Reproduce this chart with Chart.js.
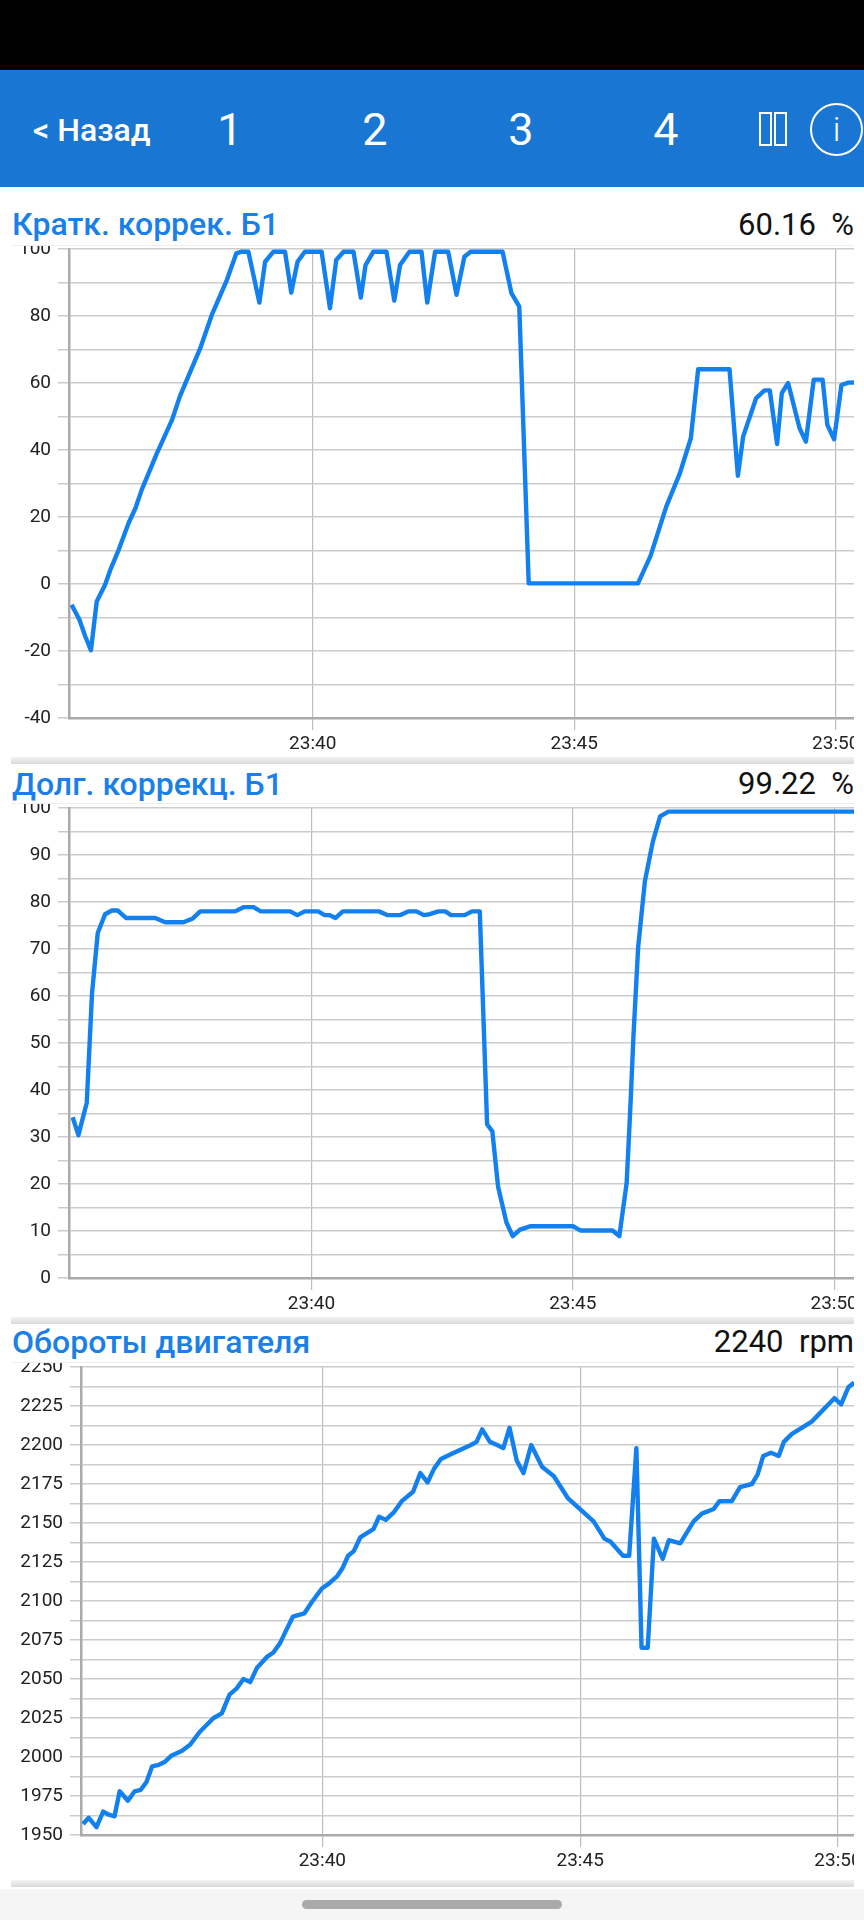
<!DOCTYPE html>
<html lang="ru">
<head>
<meta charset="utf-8">
<title>Графики</title>
<script src="https://cdn.jsdelivr.net/npm/chart.js@4"></script>
<style>
    html, body { margin: 0; padding: 0; background: #fff; }
    #page { position: relative; width: 864px; height: 1920px; overflow: hidden; font-family: Roboto, sans-serif; }
    #status { position: absolute; left: 0; top: 0; width: 864px; height: 70px; background: #000; }
    #toolbar { position: absolute; left: 0; top: 70px; width: 864px; height: 117px; background: #1976d2; color: #fff; }
    #toolbar span { position: absolute; top: 0; line-height: 120px; }
    #back { left: 33px; font-size: 32px; font-weight: 500; }
    .num { font-size: 45px; width: 60px; text-align: center; }
    .bar { position: absolute; top: 42px; width: 9px; height: 30px; border: 2px solid #fff; }
    #info { position: absolute; left: 810px; top: 33px; width: 49px; height: 49px; border: 2px solid #fff; border-radius: 50%; text-align: center; line-height: 49px; font-size: 34px; font-weight: 300; }
    .head { position: absolute; left: 11px; width: 843px; background: #fff; border-bottom: 1px solid #eee; z-index: 2; }
    .head b { position: absolute; left: 1px; bottom: 0; font-size: 32px; line-height: 38px; font-weight: 500; color: #1a7fe6; white-space: nowrap; }
    .head i { position: absolute; right: 0; bottom: 0; font-size: 31px; line-height: 38px; font-style: normal; color: #111; white-space: pre; }
    .clip { position: absolute; left: 0; width: 854px; overflow: hidden; z-index: 1; }
    .shade { position: absolute; left: 11px; width: 843px; height: 7px; background: linear-gradient(#f4f4f4, #d9d9d9); z-index: 3; }
    #nav { position: absolute; left: 0; top: 1889px; width: 864px; height: 31px; background: #f5f5f5; z-index: 4; }
    #pill { position: absolute; left: 302px; top: 11px; width: 260px; height: 9px; border-radius: 5px; background: #aaa; }
</style>
</head>
<body>
<div id="page">
    <div id="status"></div>
    <div id="toolbar">
        <span id="back">&lt; Назад</span>
        <span class="num" style="left:200px">1</span>
        <span class="num" style="left:345px">2</span>
        <span class="num" style="left:491px">3</span>
        <span class="num" style="left:636px">4</span>
        <div class="bar" style="left:759px"></div>
        <div class="bar" style="left:774px"></div>
        <div id="info">i</div>
    </div>

    <div class="head" style="top:187px;height:58px"><b style="bottom:2px">Кратк. коррек. Б1</b><i style="bottom:1px">60.16  %</i></div>
    <div class="clip" style="top:229px;height:532px"><canvas id="chart1"></canvas></div>
    <div class="shade" style="top:757px"></div>

    <div class="head" style="top:764px;height:39px"><b>Долг. коррекц. Б1</b><i>99.22  %</i></div>
    <div class="clip" style="top:787px;height:533px"><canvas id="chart2"></canvas></div>
    <div class="shade" style="top:1317px"></div>

    <div class="head" style="top:1324px;height:38px"><b style="bottom:1px">Обороты двигателя</b><i style="bottom:1px">2240  rpm</i></div>
    <div class="clip" style="top:1346px;height:536px"><canvas id="chart3"></canvas></div>
    <div class="shade" style="top:1880px"></div>

    <div id="nav"><div id="pill"></div></div>
</div>

<script>
// time axis is minutes after 23:00
const xTicks = [40, 45, 50];
const xTickLabels = ['23:40', '23:45', '23:50'];

const shortTime = [35.39, 35.54, 35.65, 35.76, 35.87, 36.03, 36.13, 36.29, 36.48, 36.61, 36.73, 37.02, 37.31, 37.46, 37.85, 38.07, 38.36, 38.54, 38.64, 38.77, 38.98, 39.09, 39.25, 39.47, 39.59, 39.71, 39.85, 40.17, 40.33, 40.45, 40.59, 40.78, 40.92, 41.01, 41.16, 41.41, 41.56, 41.67, 41.85, 42.08, 42.19, 42.34, 42.59, 42.75, 42.9, 43.02, 43.63, 43.8, 43.95, 44.13, 46.22, 46.46, 46.64, 46.76, 47.02, 47.23, 47.37, 47.97, 48.13, 48.23, 48.48, 48.64, 48.74, 48.88, 48.97, 49.09, 49.31, 49.43, 49.58, 49.75, 49.84, 49.97, 50.11, 50.24, 50.35];
const shortTrim = [-6.2, -10.7, -15.6, -19.8, -5.2, -0.2, 4.2, 10.2, 18.2, 22.6, 28.1, 39, 49, 56, 70.4, 80.3, 90.8, 98.7, 99.2, 99.2, 84, 96.2, 99.2, 99.2, 87, 96.2, 99.2, 99.2, 82.3, 96.7, 99.2, 99.2, 85.5, 95.2, 99.2, 99.2, 84.6, 95.2, 99.2, 99.2, 84, 99.2, 99.2, 86.3, 97.7, 99.2, 99.2, 86.8, 82.8, 0.2, 0.2, 8.4, 17.2, 23.1, 33, 43.5, 64.1, 64.1, 32.3, 44, 55.5, 57.8, 57.8, 41.8, 57, 60, 46.5, 42.5, 61, 61, 47.5, 43.2, 59.4, 60.1, 60.16];
const shortTicks = [-40, -20, 0, 20, 40, 60, 80, 100];

const longTime = [35.43, 35.54, 35.7, 35.8, 35.91, 36.05, 36.18, 36.29, 36.45, 37.01, 37.2, 37.55, 37.73, 37.87, 38.54, 38.7, 38.89, 39.03, 39.59, 39.73, 39.87, 40.13, 40.25, 40.35, 40.46, 40.6, 41.29, 41.46, 41.69, 41.85, 42.01, 42.15, 42.26, 42.43, 42.56, 42.67, 42.93, 43.07, 43.22, 43.36, 43.46, 43.57, 43.73, 43.85, 43.99, 44.18, 45.01, 45.15, 45.76, 45.89, 46.03, 46.1, 46.16, 46.25, 46.38, 46.53, 46.67, 46.83, 50.38];
const longTrim = [34.2, 30.4, 37.3, 60.5, 73.4, 77.4, 78.2, 78.2, 76.6, 76.6, 75.7, 75.7, 76.5, 78, 78, 78.9, 78.9, 78, 78, 77.2, 78, 78, 77.2, 77.2, 76.6, 78, 78, 77.2, 77.2, 78, 78, 77.2, 77.4, 78, 78, 77.2, 77.2, 78, 78, 32.7, 31.2, 19.4, 11.8, 8.9, 10.3, 11, 11, 10.1, 10.1, 8.9, 20.2, 36.1, 51.4, 70.4, 84.5, 92.8, 98.2, 99.22, 99.22];
const longTicks = [0, 10, 20, 30, 40, 50, 60, 70, 80, 90, 100];

const rpmTime = [35.36, 35.47, 35.62, 35.75, 35.86, 35.97, 36.07, 36.23, 36.36, 36.48, 36.59, 36.7, 36.83, 36.95, 37.08, 37.28, 37.44, 37.62, 37.89, 38.05, 38.2, 38.34, 38.47, 38.6, 38.73, 38.92, 39.05, 39.18, 39.31, 39.43, 39.65, 39.79, 39.99, 40.12, 40.29, 40.39, 40.5, 40.61, 40.74, 40.99, 41.1, 41.23, 41.39, 41.54, 41.76, 41.9, 42.04, 42.17, 42.3, 42.49, 42.68, 42.88, 42.99, 43.1, 43.25, 43.39, 43.51, 43.63, 43.77, 43.9, 44.05, 44.26, 44.49, 44.76, 45.26, 45.47, 45.59, 45.83, 45.95, 46.09, 46.19, 46.31, 46.43, 46.6, 46.72, 46.94, 47.2, 47.36, 47.59, 47.7, 47.94, 48.1, 48.33, 48.44, 48.55, 48.7, 48.85, 48.95, 49.1, 49.49, 49.93, 50.06, 50.2, 50.31];
const rpmValues = [1957, 1961, 1955, 1965, 1963, 1962, 1978, 1972, 1978, 1979, 1984, 1994, 1995, 1997, 2001, 2004, 2008, 2016, 2025, 2028, 2040, 2044, 2050, 2048, 2057, 2064, 2067, 2073, 2082, 2090, 2092, 2099, 2108, 2111, 2116, 2121, 2129, 2132, 2141, 2146, 2154, 2152, 2157, 2164, 2170, 2182, 2176, 2185, 2191, 2194, 2197, 2200, 2202, 2210, 2202, 2200, 2198, 2211, 2190, 2182, 2200, 2186, 2180, 2166, 2151, 2140, 2138, 2129, 2129, 2198, 2070, 2070, 2140, 2127, 2139, 2137, 2151, 2156, 2159, 2164, 2164, 2173, 2175, 2181, 2193, 2195, 2193, 2202, 2207, 2215, 2230, 2226, 2237, 2240];
const rpmTicks = [1950, 1975, 2000, 2025, 2050, 2075, 2100, 2125, 2150, 2175, 2200, 2225, 2250];

const LINE_COLOR = '#1380ef';
const AXIS_COLOR = '#aaaaaa';
const FONT = { family: 'Roboto', size: 19 };

function drawPanel(canvasId, opts) {
    const canvas = document.getElementById(canvasId);
    const right = 46;
    const bottom = 44;
    canvas.width = 854 + right;
    canvas.height = opts.top + opts.plotHeight + bottom;

    new Chart(canvas, {
        type: 'line',
        data: {
            datasets: [{
                data: opts.time.map((t, i) => ({ x: t, y: opts.values[i] })),
                borderColor: LINE_COLOR,
                borderWidth: 4.4,
                pointRadius: 0,
                tension: 0,
                borderJoinStyle: 'round'
            }]
        },
        options: {
            responsive: false,
            animation: false,
            layout: { padding: { top: opts.top, right: right, left: 0, bottom: 0 } },
            plugins: { legend: { display: false }, tooltip: { enabled: false } },
            scales: {
                x: {
                    type: 'linear',
                    min: opts.xMin,
                    max: opts.xMax,
                    afterBuildTicks: axis => { axis.ticks = xTicks.map(v => ({ value: v })); },
                    afterFit: scale => { scale.height = bottom; },
                    grid: { color: '#bdbdbd', lineWidth: 1.2, tickLength: 12 },
                    border: { color: AXIS_COLOR, width: 2.5 },
                    ticks: {
                        autoSkip: false,
                        maxRotation: 0,
                        padding: 3,
                        color: '#222',
                        font: FONT,
                        callback: v => xTickLabels[xTicks.indexOf(v)]
                    }
                },
                y: {
                    min: opts.yTicks[0],
                    max: opts.yTicks[opts.yTicks.length - 1],
                    afterFit: scale => { scale.width = opts.left; },
                    grid: { color: '#cccccc', lineWidth: 1.5, tickLength: 11 },
                    border: { color: AXIS_COLOR, width: 2.5 },
                    ticks: {
                        stepSize: opts.step,
                        autoSkip: false,
                        padding: 7,
                        color: '#222',
                        font: FONT,
                        callback: v => (opts.yTicks.includes(v) ? String(v) : '')
                    }
                }
            }
        }
    });
}

drawPanel('chart1', { time: shortTime, values: shortTrim, yTicks: shortTicks, step: 10, left: 69, top: 20, plotHeight: 469, xMin: 35.34, xMax: 50.35 });
drawPanel('chart2', { time: longTime, values: longTrim, yTicks: longTicks, step: 5, left: 69, top: 21, plotHeight: 470, xMin: 35.36, xMax: 50.38 });
drawPanel('chart3', { time: rpmTime, values: rpmValues, yTicks: rpmTicks, step: 12.5, left: 81, top: 21, plotHeight: 468, xMin: 35.32, xMax: 50.31 });
</script>
</body>
</html>
